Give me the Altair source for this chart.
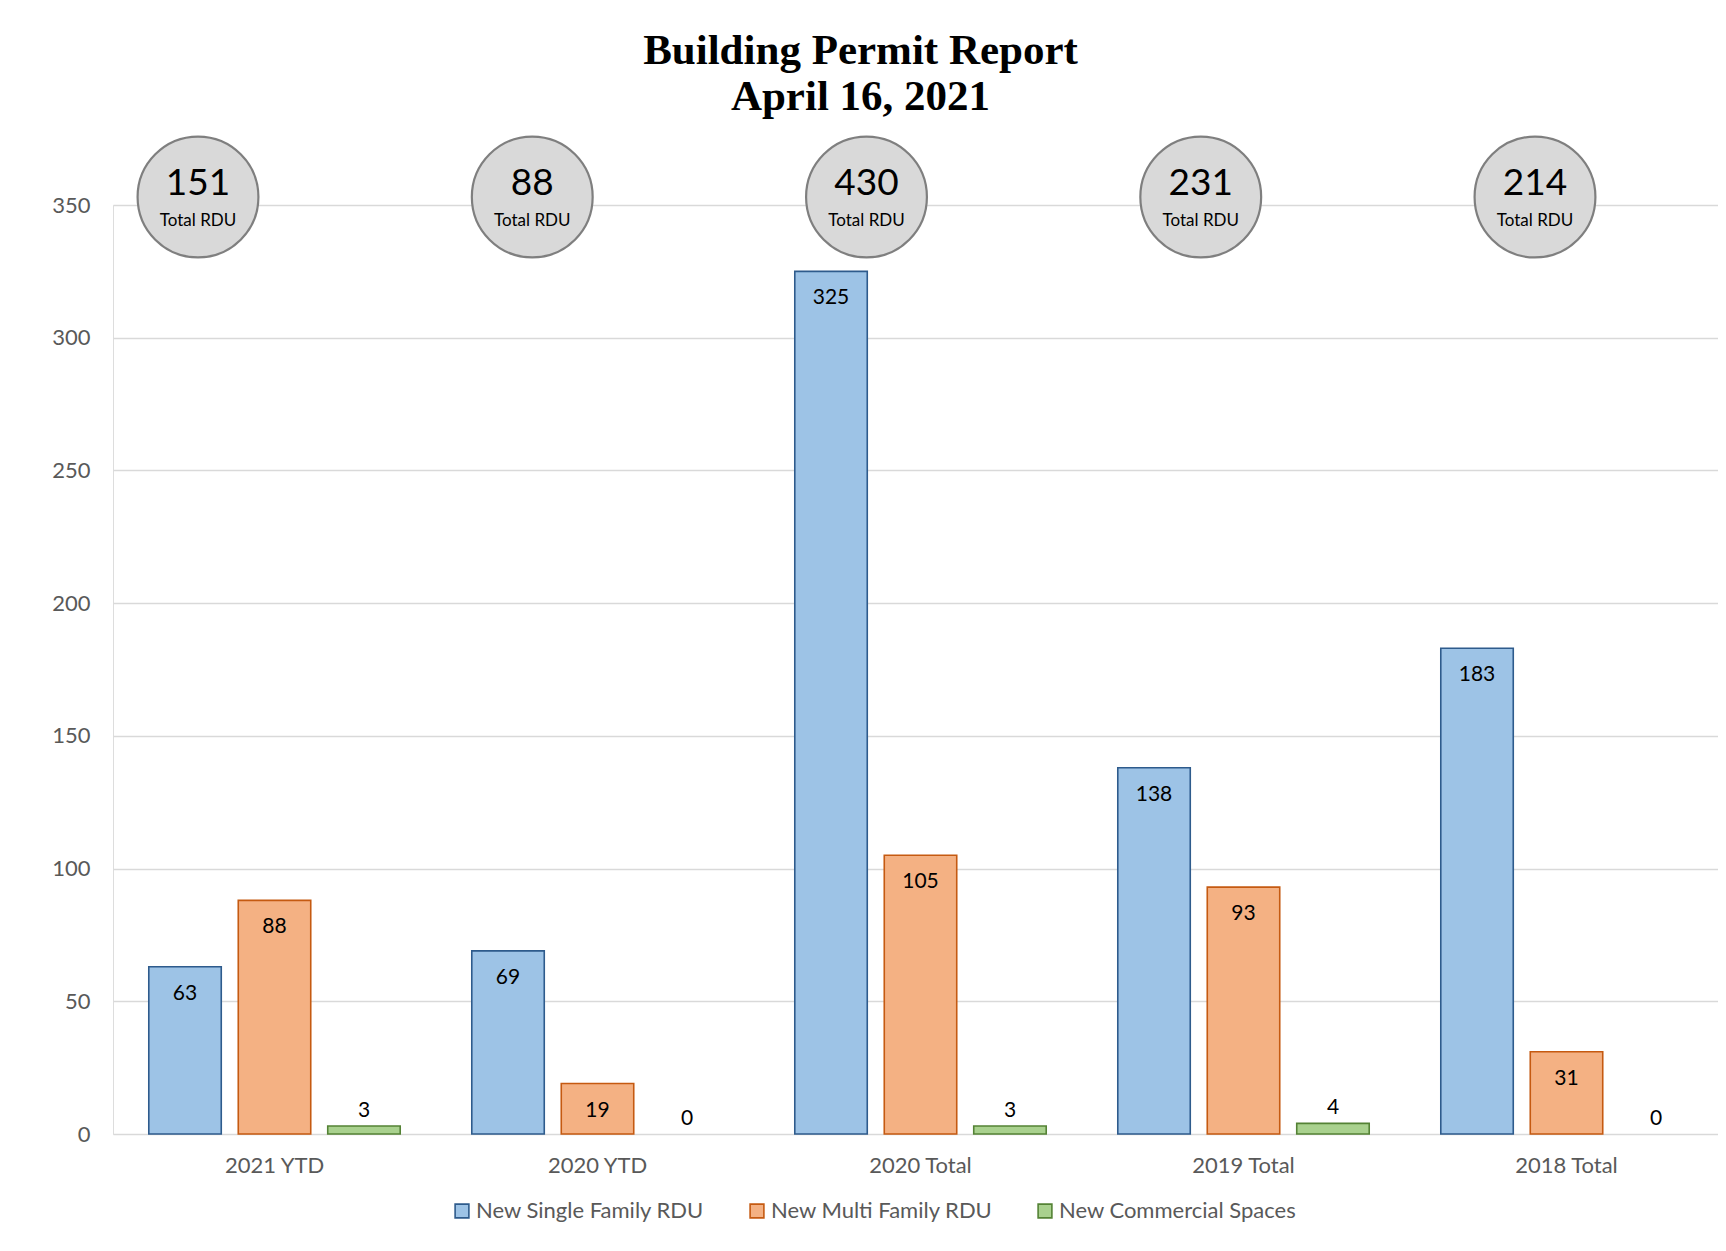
import altair as alt
import pandas as pd

categories = ["2021 YTD", "2020 YTD", "2020 Total", "2019 Total", "2018 Total"]
series = ["New Single Family RDU", "New Multi Family RDU", "New Commercial Spaces"]
single_family = [63, 69, 325, 138, 183]
multi_family = [88, 19, 105, 93, 31]
commercial = [3, 0, 3, 4, 0]
total_rdu = [151, 88, 430, 231, 214]
y_ticks = [0, 50, 100, 150, 200, 250, 300, 350]

fills = ["#9DC3E6", "#F4B183", "#A9D18E"]
strokes = ["#2E5B8C", "#C55A11", "#548235"]

rows = []
for i, c in enumerate(categories):
    for s, vals in zip(series, [single_family, multi_family, commercial]):
        rows.append({"cat": c, "series": s, "value": vals[i]})
df = pd.DataFrame(rows)
tot = pd.DataFrame({"cat": categories, "total": total_rdu})

FONT = "Lato"

x = alt.X("cat:N", sort=categories, title=None,
          scale=alt.Scale(paddingInner=0, paddingOuter=0, range=[0, 1615]),
          axis=alt.Axis(labelFont=FONT, labelFontSize=22, labelColor="#595959",
                        ticks=False, domain=False, labelPadding=21, labelAngle=0))
xo = alt.XOffset("series:N", sort=series,
                 scale=alt.Scale(domain=series, paddingInner=0.19, paddingOuter=0.4))
y = alt.Y("value:Q", title=None,
          scale=alt.Scale(domain=[0, 350], nice=False),
          axis=alt.Axis(values=y_ticks, labelFont=FONT, labelFontSize=22,
                        labelColor="#595959", ticks=False, domain=False,
                        labelPadding=23, gridColor="#D9D9D9", gridWidth=1.5))

legend = alt.Legend(title=None, orient="none", legendX=338, legendY=995,
                    direction="horizontal", symbolType="square", symbolSize=190,
                    symbolStrokeWidth=1.6, labelFont=FONT, labelFontSize=22,
                    labelColor="#595959", columnPadding=41, labelOffset=3,
                    labelLimit=0)

base = alt.Chart(df)
bars = base.transform_filter(alt.datum.value > 0).mark_bar(strokeWidth=1.6).encode(
    x=x, xOffset=xo, y=y,
    fill=alt.Fill("series:N", sort=series,
                  scale=alt.Scale(domain=series, range=fills), legend=legend),
    stroke=alt.Stroke("series:N", sort=series,
                      scale=alt.Scale(domain=series, range=strokes), legend=legend),
)

inside = base.transform_filter(
    alt.datum.series != "New Commercial Spaces"
).mark_text(font=FONT, fontSize=21, color="#000000", baseline="middle", dy=27).encode(
    x=alt.X("cat:N", sort=categories), xOffset=xo, y=alt.Y("value:Q"), text="value:Q")

outside = base.transform_filter(
    alt.datum.series == "New Commercial Spaces"
).mark_text(font=FONT, fontSize=21, color="#000000", baseline="middle", dy=-15).encode(
    x=alt.X("cat:N", sort=categories), xOffset=xo, y=alt.Y("value:Q"), text="value:Q")

bar_layer = alt.layer(bars, inside, outside)

cx = alt.X("cat:N", sort=categories, axis=None,
           scale=alt.Scale(type="point", padding=0, range=[85, 1422]))
circ_base = alt.Chart(tot)
circles = circ_base.mark_point(shape="circle", filled=True, size=14600,
                               fill="#D9D9D9", stroke="#7F7F7F", strokeWidth=2.2,
                               opacity=1).encode(x=cx, y=alt.datum(353))
circ_num = circ_base.mark_text(font=FONT, fontSize=37, color="#000000",
                               baseline="middle", dy=-13).encode(
    x=cx, y=alt.datum(353), text="total:Q")
circ_lbl = circ_base.mark_text(font=FONT, fontSize=17, color="#000000",
                               baseline="middle", dy=24).encode(
    x=cx, y=alt.datum(353), text=alt.value("Total RDU"))
circ_layer = alt.layer(circles, circ_num, circ_lbl)

chart = alt.layer(bar_layer, circ_layer).resolve_scale(x="independent").properties(
    width=1605, height=929,
    autosize=alt.AutoSizeParams(type="none"),
    padding={"left": 105, "top": 197, "right": 0, "bottom": 98},
    title=alt.Title(["Building Permit Report", "April 16, 2021"],
                    font="Liberation Serif", fontSize=43, fontWeight="bold",
                    color="#000000", lineHeight=46, anchor="middle", dx=-55, offset=13),
).configure_view(stroke=None).configure(background="white")

chart.save("out.html", embed_options={"renderer": "svg", "actions": False})
